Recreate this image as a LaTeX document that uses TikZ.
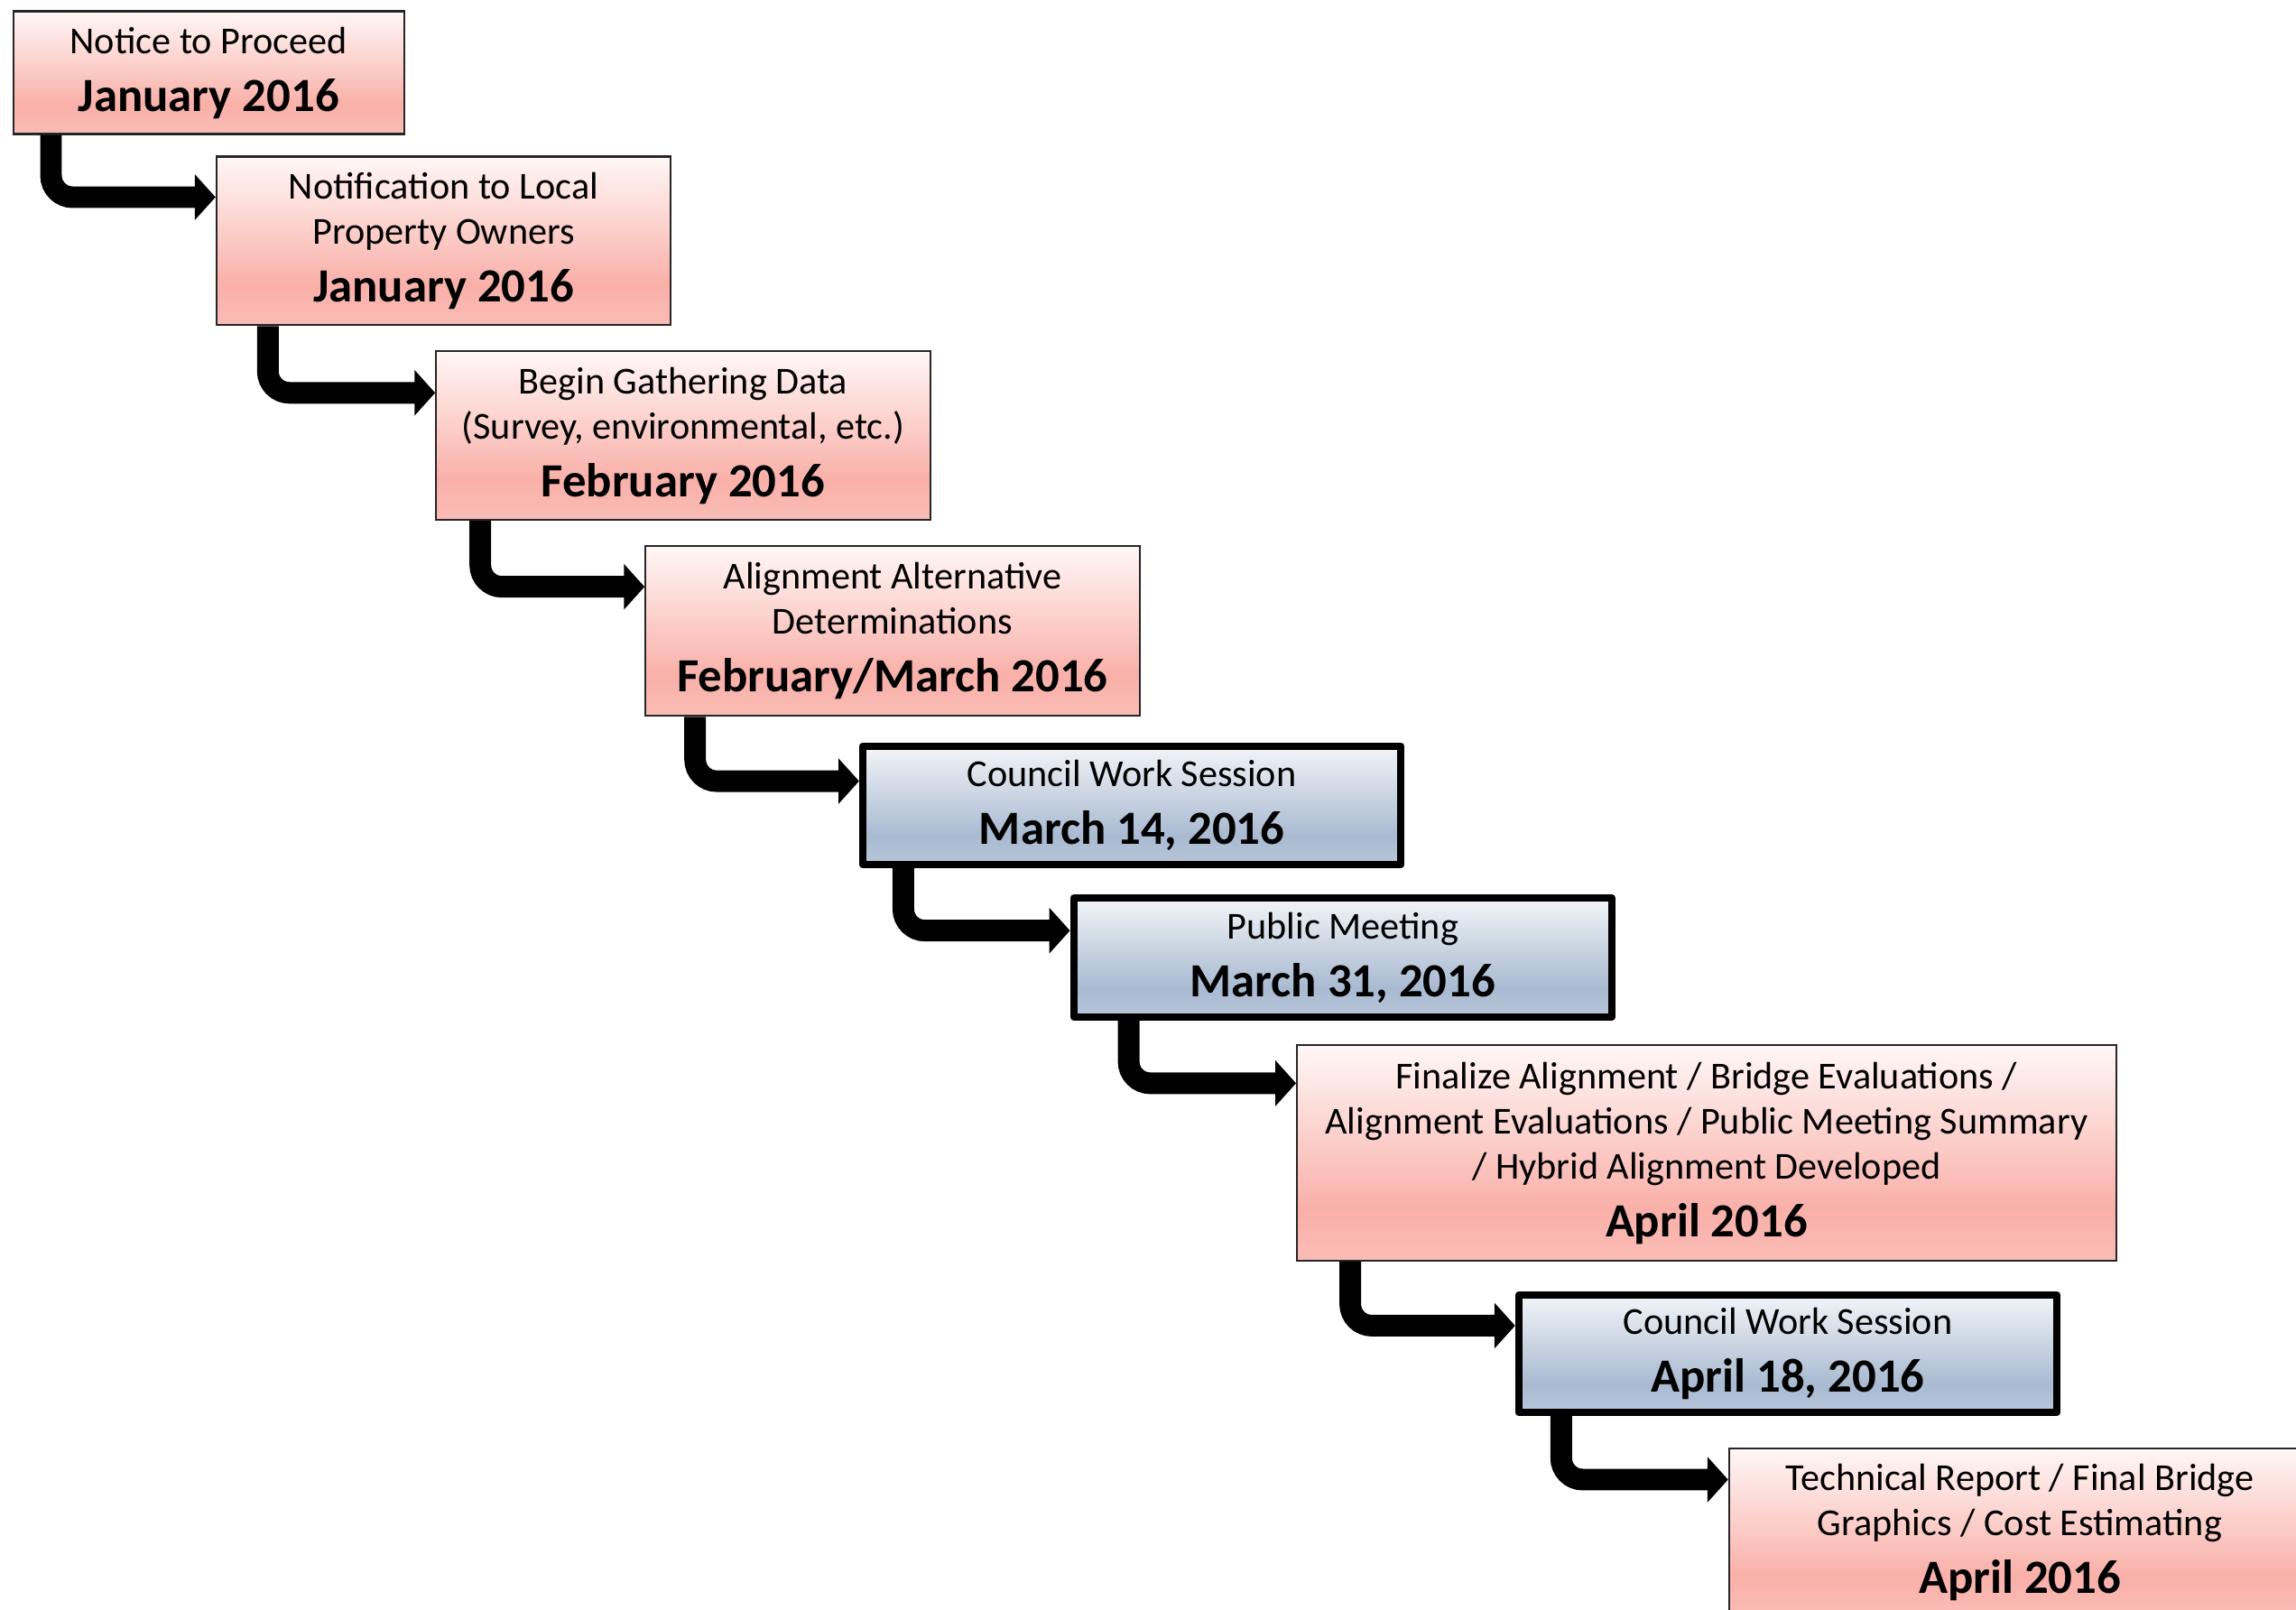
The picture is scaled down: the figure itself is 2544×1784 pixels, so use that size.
\documentclass[tikz,border=0pt]{standalone}
\usepackage{fontspec}
\setmainfont{Carlito}
\usetikzlibrary{arrows.meta,calc}
\definecolor{pinkA}{RGB}{255,247,246}
\definecolor{pinkM}{RGB}{252,212,208}
\definecolor{pinkB}{RGB}{249,176,169}
\definecolor{pinkC}{RGB}{250,188,182}
\definecolor{blueA}{RGB}{242,245,249}
\definecolor{blueM}{RGB}{205,215,228}
\definecolor{blueB}{RGB}{169,186,209}
\definecolor{blueC}{RGB}{184,198,217}
\pgfdeclareverticalshading{pinkshade}{100bp}{color(0bp)=(pinkC); color(25bp)=(pinkC); color(37bp)=(pinkB); color(56bp)=(pinkM); color(75bp)=(pinkA); color(100bp)=(pinkA)}
\pgfdeclareverticalshading{blueshade}{100bp}{color(0bp)=(blueC); color(25bp)=(blueC); color(37bp)=(blueB); color(56bp)=(blueM); color(75bp)=(blueA); color(100bp)=(blueA)}
\newcommand\datelabel[1]{{\fontsize{15}{17}\selectfont\bfseries #1}}
\tikzset{
  box/.style={rectangle, inner sep=0pt, align=center, font=\fontsize{12}{14.2}\selectfont},
  pinkbox/.style={box, draw=black!85, line width=0.6pt, shade, shading=pinkshade},
  bluebox/.style={box, draw=black, line width=2.3pt, line join=round, shade, shading=blueshade},
  conn/.style={line width=6.8pt, rounded corners=6.8pt, -{Triangle[length=6.5pt,width=14pt]}},
}
\begin{document}
\begin{tikzpicture}[x=0.01cm, y=-0.01cm]
\useasboundingbox (0,0) rectangle (2544,1784);
\clip (0,0) rectangle (2544,1784);
\fill[white] (0,0) rectangle (2544,1784);

\node[pinkbox, minimum width=4.33cm, minimum height=1.36cm] (b1) at (231.2,80.5)
  {Notice to Proceed\\[4pt]\datelabel{January 2016}};
\node[pinkbox, minimum width=5.03cm, minimum height=1.866cm] (b2) at (491.5,266.9)
  {Notification to Local\\Property Owners\\[4pt]\datelabel{January 2016}};
\node[pinkbox, minimum width=5.47cm, minimum height=1.866cm] (b3) at (756.9,482.7)
  {Begin Gathering Data\\(Survey, environmental, etc.)\\[4pt]\datelabel{February 2016}};
\node[pinkbox, minimum width=5.47cm, minimum height=1.88cm] (b4) at (988.9,699.3)
  {Alignment Alternative\\Determinations\\[4pt]\datelabel{February/March 2016}};
\node[bluebox, minimum width=5.96cm, minimum height=1.315cm] (b5) at (1254.1,892.4)
  {Council Work Session\\[4pt]\datelabel{March 14, 2016}};
\node[bluebox, minimum width=5.96cm, minimum height=1.315cm] (b6) at (1487.8,1061)
  {Public Meeting\\[4pt]\datelabel{March 31, 2016}};
\node[pinkbox, minimum width=9.07cm, minimum height=2.385cm] (b7) at (1890.9,1277.7)
  {Finalize Alignment / Bridge Evaluations /\\Alignment Evaluations / Public Meeting Summary\\/ Hybrid Alignment Developed\\[4pt]\datelabel{April 2016}};
\node[bluebox, minimum width=5.96cm, minimum height=1.30cm] (b8) at (1981,1500)
  {Council Work Session\\[4pt]\datelabel{April 18, 2016}};
\node[pinkbox, minimum width=6.44cm, minimum height=1.864cm] (b9) at (2238,1697.8)
  {Technical Report / Final Bridge\\Graphics / Cost Estimating\\[4pt]\datelabel{April 2016}};

\draw[conn] ($(b1.south west)+(43,0)$) |- ($(b2.north west)+(0,46)$);
\draw[conn] ($(b2.south west)+(58,0)$) |- ($(b3.north west)+(0,47)$);
\draw[conn] ($(b3.south west)+(50,0)$) |- ($(b4.north west)+(0,46)$);
\draw[conn] ($(b4.south west)+(56,0)$) |- ($(b5.north west)+(0,43)$);
\draw[conn] ($(b5.south west)+(49,0)$) |- ($(b6.north west)+(0,40)$);
\draw[conn] ($(b6.south west)+(65,0)$) |- ($(b7.north west)+(0,43)$);
\draw[conn] ($(b7.south west)+(60,0)$) |- ($(b8.north west)+(0,38)$);
\draw[conn] ($(b8.south west)+(51,0)$) |- ($(b9.north west)+(0,36)$);
\end{tikzpicture}
\end{document}
